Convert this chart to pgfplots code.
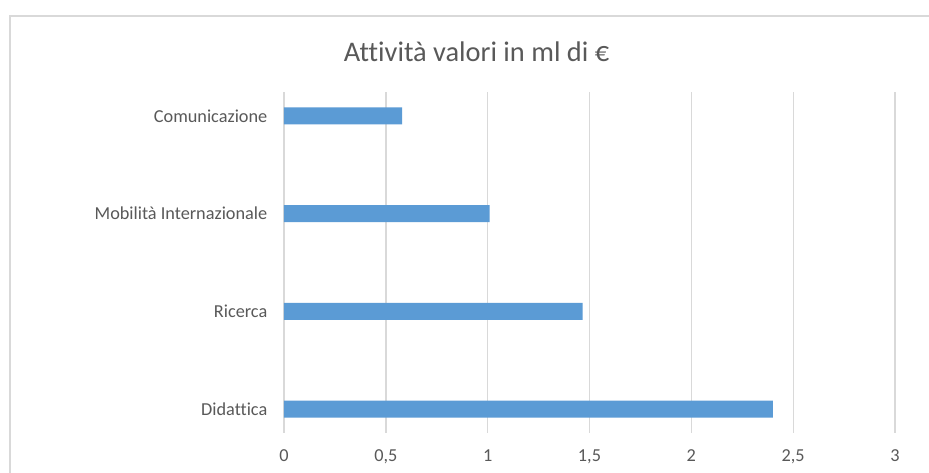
\documentclass[border=0pt]{standalone}
\usepackage{pgfplots}
\pgfplotsset{compat=1.18}
\usepackage{fontspec}
\setmainfont[Ligatures={NoCommon,TeX}]{Carlito}
\definecolor{barblue}{HTML}{5B9BD5}
\definecolor{gridgray}{HTML}{D9D9D9}
\definecolor{txtgray}{HTML}{595959}
\begin{document}
\begin{tikzpicture}
\useasboundingbox (0pt,0pt) rectangle (696.75pt,-354.75pt);
\fill[white] (0pt,0pt) rectangle (696.75pt,-354.75pt);
\draw[gridgray, line width=1.2pt] (7.5pt,-12pt) rectangle (720pt,-380pt);
\node[anchor=base, text=txtgray, font=\fontsize{21.3}{24}\selectfont] at (357.4pt,-46.5pt) {Attività valori in ml di €};
\begin{axis}[
  at={(213pt,-324.75pt)}, anchor=south west,
  scale only axis, width=458.25pt, height=255.75pt,
  xbar, bar width=12.75pt,
  xmin=0, xmax=3, ymin=-0.245, ymax=3.245,
  xtick={0,0.5,1,1.5,2,2.5,3},
  xticklabels={0,{0,5},1,{1,5},2,{2,5},3},
  ytick={0,1,2,3},
  yticklabels={Didattica,Ricerca,Mobilità Internazionale,Comunicazione},
  xmajorgrids, major grid style={gridgray, line width=1pt},
  major tick length=0pt,
  axis line style={draw=none},
  tick label style={text=txtgray, font=\fontsize{13.7}{16}\selectfont},
  x tick label style={yshift=-9pt},
  y tick label style={xshift=-9pt},
  /pgf/number format/assume math mode=true,
  clip=false,
]
\addplot[fill=barblue, draw=none] coordinates {(2.40,0) (1.466,1) (1.01,2) (0.58,3)};
\end{axis}
\end{tikzpicture}
\end{document}
